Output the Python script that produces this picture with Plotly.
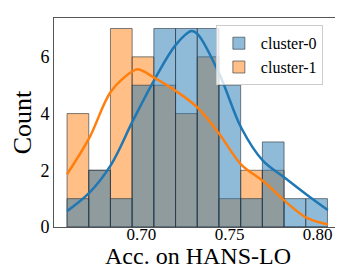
import plotly.graph_objects as go

# Histogram bins
bin_start = 0.6578
bin_size = 0.01231
counts_c0 = [1, 2, 1, 5, 7, 7, 7, 5, 1, 3, 1, 1]
counts_c1 = [4, 2, 7, 6, 5, 4, 6, 1, 2, 2, 0, 0]

# KDE curves
kde_x_c0 = [0.6578, 0.6705, 0.6828, 0.6951, 0.7074, 0.7197, 0.7284, 0.7320, 0.7443, 0.7566, 0.7690, 0.7813, 0.7936, 0.8057]
kde_y_c0 = [0.56, 1.21, 2.2, 3.74, 5.2, 6.44, 6.91, 6.79, 5.38, 3.5, 2.33, 1.74, 1.15, 0.6]
kde_x_c1 = [0.6578, 0.6705, 0.6828, 0.6951, 0.6981, 0.7074, 0.7197, 0.7320, 0.7443, 0.7566, 0.7690, 0.7813, 0.7936, 0.8057]
kde_y_c1 = [1.86, 3.15, 4.79, 5.5, 5.56, 5.26, 4.79, 4.2, 3.27, 2.2, 1.62, 0.92, 0.33, 0.09]

names = ["cluster-0", "cluster-1"]
x_ticks = [0.70, 0.75, 0.80]
x_tick_text = ["0.70", "0.75", "0.80"]
y_ticks = [0, 2, 4, 6]
x_title = "Acc. on HANS-LO"
y_title = "Count"

centers = [bin_start + bin_size * (i + 0.5) for i in range(len(counts_c0))]

blue = "#1f77b4"
orange = "#ff7f0e"
edge = "rgba(40,50,60,0.6)"
font = "Times New Roman"

fig = go.Figure()
fig.add_trace(go.Bar(x=centers, y=counts_c1, width=bin_size, name=names[1], legendrank=2,
                     marker=dict(color="rgba(255,127,14,0.5)", line=dict(color=edge, width=1))))
fig.add_trace(go.Bar(x=centers, y=counts_c0, width=bin_size, name=names[0], legendrank=1,
                     marker=dict(color="rgba(31,119,180,0.5)", line=dict(color=edge, width=1))))
fig.add_trace(go.Scatter(x=kde_x_c0, y=kde_y_c0, mode="lines", line=dict(color=blue, width=2.5, shape="spline"),
                         showlegend=False))
fig.add_trace(go.Scatter(x=kde_x_c1, y=kde_y_c1, mode="lines", line=dict(color=orange, width=2.5, shape="spline"),
                         showlegend=False))

fig.update_layout(
    width=343, height=274,
    margin=dict(l=46, r=10, t=10, b=55),
    barmode="overlay",
    plot_bgcolor="white", paper_bgcolor="white",
    font=dict(family=font, color="black"),
    legend=dict(x=0.564, y=0.965, xanchor="left", yanchor="top",
                bgcolor="rgba(255,255,255,0.8)", bordercolor="#cccccc", borderwidth=1,
                font=dict(size=16, family=font, color="black"), itemwidth=34, tracegroupgap=0),
    showlegend=True,
    annotations=[dict(text=x_title, xref="paper", yref="paper", x=0.5, y=-0.14,
                      xanchor="center", yanchor="middle", showarrow=False,
                      font=dict(size=24, family=font, color="black"))],
)
fig.update_xaxes(range=[0.6504, 0.8132], tickvals=x_ticks, ticktext=x_tick_text,
                 showgrid=False, zeroline=False, showline=True, linecolor="#555555", linewidth=1, mirror=True,
                 ticks="", ticklen=0, ticklabelstandoff=-8, tickfont=dict(size=17, family=font, color="black"))
fig.update_yaxes(range=[0, 7.37], tickvals=y_ticks,
                 showgrid=False, zeroline=False, showline=True, linecolor="#555555", linewidth=1, mirror=True,
                 ticks="", tickfont=dict(size=18, family=font, color="black"),
                 title=dict(text=y_title, font=dict(size=26, family=font), standoff=2))

fig.write_html("out.html")
